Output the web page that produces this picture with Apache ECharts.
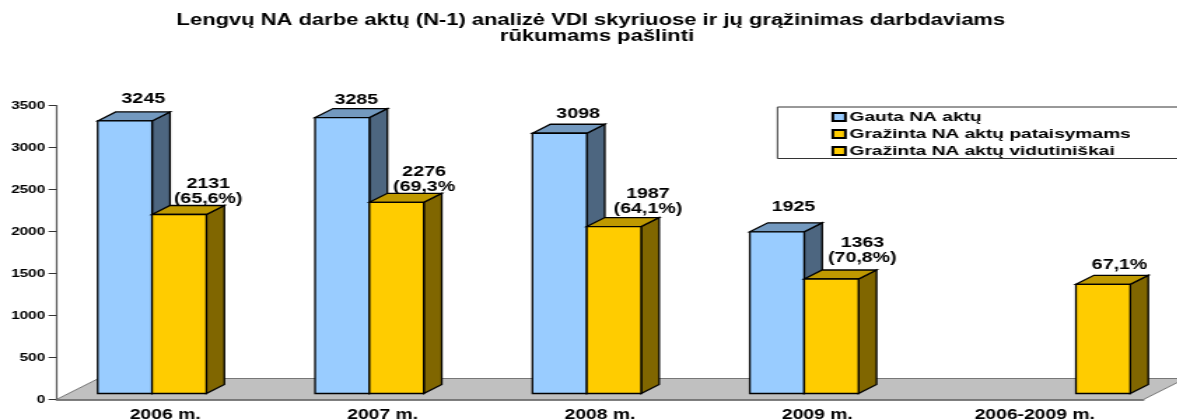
<!DOCTYPE html>
<html><head><meta charset="utf-8">
<script src="https://cdn.jsdelivr.net/npm/echarts@6/dist/echarts.min.js"></script>
<style>html,body{margin:0;padding:0;background:#fff;overflow:hidden;width:1178px;height:419px}
#c{width:841.4px;height:419px;transform:scaleX(1.4);transform-origin:0 0}</style></head>
<body><div id="c"></div>
<script>
const categories = ['2006 m.', '2007 m.', '2008 m.', '2009 m.', '2006-2009 m.'];
const received = [3245, 3285, 3098, 1925, null];
const returned = [2131, 2276, 1987, 1363, null];
const returnedAverage = [null, null, null, null, 1300];
const returnedPct = ['(65,6%)', '(69,3%', '(64,1%)', '(70,8%)', null];
const averagePct = [null, null, null, null, '67,1%'];
const seriesNames = ['Gauta NA aktų', 'Gražinta NA aktų pataisymams', 'Gražinta NA aktų vidutiniškai'];
const yTicks = [0, 500, 1000, 1500, 2000, 2500, 3000, 3500];
const titleText = 'Lengvų NA darbe aktų (N-1) analizė VDI skyriuose ir jų grąžinimas darbdaviams  \nrūkumams pašlinti';

// The reference is an Arial chart stretched sideways, so the whole canvas is stretched by S.
const S = 1.4;
const FONT = '"Liberation Sans", Arial, sans-serif';
const PLANE = [14 / S, -6], DEPTH = [18 / S, -9], FLOOR = [42 / S, -21];
// label nudges per series and category (screen px, x then y)
const nudge = [
  [[0.5, -14], [-4, -9.5], [0.5, -11.5], [-1.5, -17.5]],
  [[11, -7.5], [9.5, -7.5], [16, -9.5], [13, -13.5]],
  [[0, 0], [0, 0], [0, 0], [0, 0], [-1.5, -11.5]]
];
const palette = [
  { front: '#99CCFF', top: '#7399BF', side: '#4D6680' },
  { front: '#FFCC00', top: '#BF9900', side: '#806600' },
  { front: '#FFCC00', top: '#BF9900', side: '#806600' }
];
function barSeries(idx, values, labelFn) {
  const col = palette[idx];
  return {
    type: 'custom', name: seriesNames[idx], z: 3 + idx,
    itemStyle: { color: col.front, borderColor: '#000', borderWidth: 1 },
    encode: { x: 0, y: 1 },
    data: values.map((v, i) => [i, v]),
    renderItem(params, api) {
      const v = api.value(1);
      if (v == null || isNaN(v)) return null;
      const i = api.value(0);
      const w = api.size([1, 0])[0] * 0.25;
      const c = api.coord([i, v]), b = api.coord([i, 0]);
      const x = c[0] + (idx - 1.5) * w + PLANE[0], x2 = x + w;
      const yT = c[1] + PLANE[1], yB = b[1] + PLANE[1];
      const [dx, dy] = DEPTH;
      const ls = { stroke: '#000', lineWidth: 1.3 };
      const n = nudge[idx][i];
      return {
        type: 'group',
        children: [
          { type: 'polygon', shape: { points: [[x2, yT], [x2 + dx, yT + dy], [x2 + dx, yB + dy], [x2, yB]] }, style: { fill: col.side, ...ls } },
          { type: 'polygon', shape: { points: [[x, yT], [x + dx, yT + dy], [x2 + dx, yT + dy], [x2, yT]] }, style: { fill: col.top, ...ls } },
          { type: 'rect', shape: { x, y: yT, width: w, height: yB - yT }, style: { fill: col.front, ...ls } },
          {
            type: 'text', z2: 100,
            style: {
              x: x + w / 2 + dx + n[0] / S, y: yT + n[1], text: labelFn(i, v), align: 'center', verticalAlign: 'bottom',
              fill: '#000', font: 'bold 14px ' + FONT, lineHeight: 15
            }
          }
        ]
      };
    }
  };
}
const chart = echarts.init(document.getElementById('c'), null, { renderer: 'canvas' });
chart.setOption({
  animation: false,
  backgroundColor: '#fff',
  title: { text: titleText, left: 590 / S, textAlign: 'center', top: 8, textStyle: { fontFamily: FONT, fontWeight: 'bold', fontSize: 15.7, lineHeight: 16, color: '#000' } },
  legend: {
    orient: 'vertical', left: 777.5 / S, top: 107, data: seriesNames, icon: 'rect', itemWidth: 9, itemHeight: 8, itemGap: 3,
    padding: [3, 300, 0.5, 38.5], borderColor: '#333', borderWidth: 1, selectedMode: false,
    textStyle: { fontFamily: FONT, fontWeight: 'bold', fontSize: 13.7, color: '#000', padding: [0, 0, 0, -2] }
  },
  grid: { left: 56.5 / S, right: 841.4 - 1144 / S, top: 105.5, bottom: 19.5, containLabel: false, outerBoundsMode: 'none' },
  xAxis: {
    type: 'category', data: categories,
    axisLine: { lineStyle: { color: '#555', width: 1.5 } },
    axisTick: { length: 5, lineStyle: { color: '#333', width: 1 } },
    axisLabel: { fontFamily: FONT, fontWeight: 'bold', fontSize: 13.8, color: '#000', margin: 9, interval: 0 }
  },
  yAxis: {
    type: 'value', min: yTicks[0], max: yTicks[yTicks.length - 1], interval: yTicks[1] - yTicks[0],
    splitLine: { show: false },
    axisLine: { show: true, lineStyle: { color: '#555', width: 1.2 } },
    axisTick: { show: true, length: 5.7, lineStyle: { color: '#333', width: 1 } },
    axisLabel: { fontFamily: FONT, fontWeight: 'bold', fontSize: 11, color: '#000', margin: 8, formatter: v => String(v) }
  },
  series: [
    {
      type: 'custom', silent: true, z: 1, data: [[0, 0]], encode: { x: 0, y: 1 },
      renderItem(params) {
        const g = params.coordSys, yb = g.y + g.height, [fx, fy] = FLOOR;
        return { type: 'polygon', shape: { points: [[g.x, yb], [g.x + g.width, yb], [g.x + g.width + fx, yb + fy], [g.x + fx, yb + fy]] }, style: { fill: '#C0C0C0', stroke: '#777', lineWidth: 1 } };
      }
    },
    barSeries(0, received, (i, v) => String(v)),
    barSeries(1, returned, (i, v) => v + '\n' + returnedPct[i]),
    barSeries(2, returnedAverage, (i, v) => averagePct[i])
  ]
});
</script></body></html>
